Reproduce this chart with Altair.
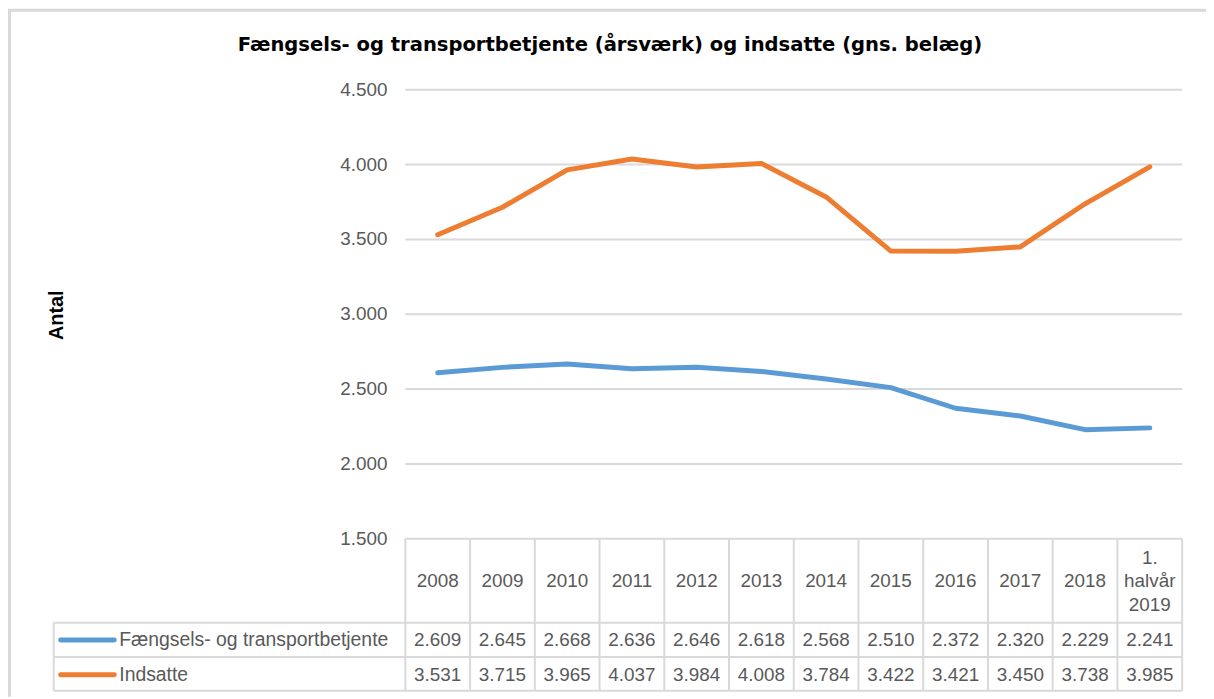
import altair as alt
import pandas as pd

title_text = "Fængsels- og transportbetjente (årsværk) og indsatte (gns. belæg)"
y_title = "Antal"
categories = ["2008", "2009", "2010", "2011", "2012", "2013", "2014",
              "2015", "2016", "2017", "2018", "1. halvår 2019"]
series_names = ["Fængsels- og transportbetjente", "Indsatte"]
betjente = [2609, 2645, 2668, 2636, 2646, 2618, 2568, 2510, 2372, 2320, 2229, 2241]
indsatte = [3531, 3715, 3965, 4037, 3984, 4008, 3784, 3422, 3421, 3450, 3738, 3985]
y_ticks = [1500, 2000, 2500, 3000, 3500, 4000, 4500]
colors = ["#5B9BD5", "#ED7D31"]

rows = []
for s, vals in zip(series_names, [betjente, indsatte]):
    for i, (c, v) in enumerate(zip(categories, vals)):
        rows.append({"cat": c, "idx": i, "series": s, "value": v})
df = pd.DataFrame(rows)
cat_df = pd.DataFrame({"cat": categories})
tick_df = pd.DataFrame({"tick": y_ticks})
series_df = pd.DataFrame({"series": series_names})
one = pd.DataFrame({"t": [title_text], "a": [y_title]})

# layout (chart pixel coordinates)
X0, X1 = 400, 1182
YT, YB = 80, 532
TB = 685
ROW_SEP1, ROW_SEP2 = 616.5, 651
LEG_X = 46
GRID = "#d9d9d9"
TXT = "#595959"
FONT = "Liberation Sans"
FS = 19
LH = 24
HEAD_Y = 575

x_scale = alt.Scale(type="band", domain=categories, range=[X0, X1],
                    paddingInner=0, paddingOuter=0)
y_scale = alt.Scale(domain=[1500, 4500], range=[YB, YT], nice=False, zero=False)
row_scale = alt.Scale(type="point", domain=series_names, range=[634, 669], padding=0)
color_scale = alt.Scale(domain=series_names, range=colors)

fmt = "replace(format(datum.{f}, ','), ',', '.')"

grid = alt.Chart(tick_df).mark_rule(color=GRID, strokeWidth=2).encode(
    y=alt.Y("tick:Q", scale=y_scale, axis=None),
    x=alt.value(X0), x2=alt.value(X1))

ylabels = alt.Chart(tick_df).transform_calculate(lbl=fmt.format(f="tick")).mark_text(
    align="right", baseline="middle", font=FONT, fontSize=FS, color=TXT).encode(
    y=alt.Y("tick:Q", scale=y_scale, axis=None),
    x=alt.value(382), text="lbl:N")

lines = alt.Chart(df).mark_line(strokeWidth=5, strokeCap="round", strokeJoin="round").encode(
    x=alt.X("cat:N", scale=x_scale, axis=None),
    y=alt.Y("value:Q", scale=y_scale, axis=None),
    color=alt.Color("series:N", scale=color_scale, legend=None),
    order=alt.Order("idx:Q"))

header1 = alt.Chart(cat_df).transform_filter("indexof(datum.cat, ' ') < 0").mark_text(
    font=FONT, fontSize=FS, color=TXT, baseline="middle").encode(
    x=alt.X("cat:N", scale=x_scale, axis=None),
    y=alt.value(HEAD_Y), text="cat:N")

header3 = alt.Chart(cat_df).transform_filter("indexof(datum.cat, ' ') >= 0").mark_text(
    font=FONT, fontSize=FS, color=TXT, lineBreak=" ", lineHeight=LH,
    baseline="middle", dy=-LH).encode(
    x=alt.X("cat:N", scale=x_scale, axis=None),
    y=alt.value(HEAD_Y), text="cat:N")

vlines = alt.Chart(cat_df).mark_rule(color=GRID, strokeWidth=2).encode(
    x=alt.X("cat:N", scale=x_scale, bandPosition=0, axis=None),
    y=alt.value(YB), y2=alt.value(TB))

right_edge = alt.Chart(one).mark_rule(color=GRID, strokeWidth=2).encode(
    x=alt.value(X1), y=alt.value(YB), y2=alt.value(TB))
leg_left = alt.Chart(one).mark_rule(color=GRID, strokeWidth=2).encode(
    x=alt.value(LEG_X), y=alt.value(ROW_SEP1), y2=alt.value(TB))
h1 = alt.Chart(one).mark_rule(color=GRID, strokeWidth=2).encode(
    y=alt.value(ROW_SEP1), x=alt.value(LEG_X), x2=alt.value(X1))
h2 = alt.Chart(one).mark_rule(color=GRID, strokeWidth=2).encode(
    y=alt.value(ROW_SEP2), x=alt.value(LEG_X), x2=alt.value(X1))
h3 = alt.Chart(one).mark_rule(color=GRID, strokeWidth=2).encode(
    y=alt.value(TB), x=alt.value(LEG_X), x2=alt.value(X1))

values = alt.Chart(df).transform_calculate(lbl=fmt.format(f="value")).mark_text(
    font=FONT, fontSize=FS, color=TXT, baseline="middle").encode(
    x=alt.X("cat:N", scale=x_scale, axis=None),
    y=alt.Y("series:N", scale=row_scale, axis=None),
    text="lbl:N")

keys = alt.Chart(series_df).mark_rule(strokeWidth=5, strokeCap="round").encode(
    x=alt.value(53), x2=alt.value(107),
    y=alt.Y("series:N", scale=row_scale, axis=None),
    color=alt.Color("series:N", scale=color_scale, legend=None))

key_text = alt.Chart(series_df).mark_text(
    font=FONT, fontSize=19.5, color=TXT, align="left", baseline="middle").encode(
    x=alt.value(112),
    y=alt.Y("series:N", scale=row_scale, axis=None),
    text="series:N")

title = alt.Chart(one).mark_text(
    font="DejaVu Sans", fontWeight="bold", fontSize=19.7, color="#000000",
    baseline="middle").encode(x=alt.value(606), y=alt.value(35), text="t:N")

ytitle = alt.Chart(one).mark_text(
    font=FONT, fontWeight="bold", fontSize=20, color="#000000", angle=270,
    baseline="middle").encode(x=alt.value(49), y=alt.value(307), text="a:N")

frame_top = alt.Chart(one).mark_rule(color=GRID, strokeWidth=3).encode(
    y=alt.value(0), x=alt.value(0), x2=alt.value(1206))
frame_left = alt.Chart(one).mark_rule(color=GRID, strokeWidth=3).encode(
    x=alt.value(1.5), y=alt.value(0), y2=alt.value(691))

chart = alt.layer(
    frame_top, frame_left, grid, vlines, right_edge, leg_left, h1, h2, h3,
    ylabels, header1, header3, values, keys, key_text, lines, title, ytitle
).resolve_scale(y="independent").properties(
    width=1206, height=691, padding=0,
    autosize=alt.AutoSizeParams(type="none")
).configure_view(stroke=None)

chart.save("out.html", embed_options={"renderer": "svg", "actions": False})
